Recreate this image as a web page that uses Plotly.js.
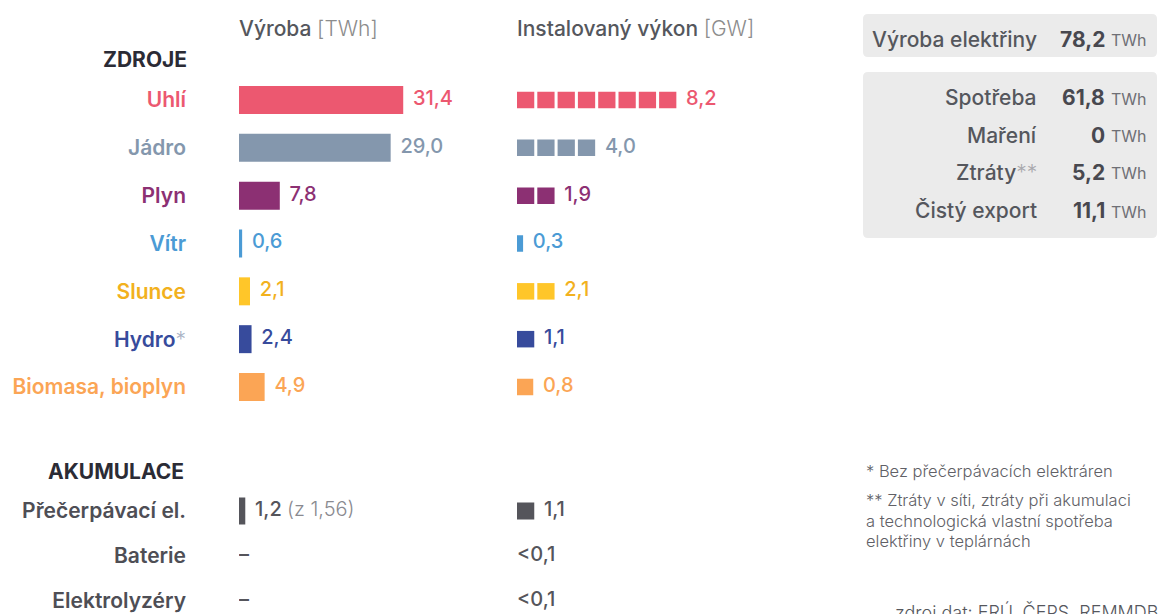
<!DOCTYPE html>
<html><head><meta charset="utf-8">
<script src="https://cdn.plot.ly/plotly-3.0.1.min.js"></script>
<style>html,body{margin:0;padding:0;background:#fff;} #chart{width:1171px;height:614px;}</style>
</head><body><div id="chart"></div>
<script>
// ---------- data ----------
const sourceNames = ['Uhlí', 'Jádro', 'Plyn', 'Vítr', 'Slunce', 'Hydro', 'Biomasa, bioplyn'];
const sourceMarks = ['', '', '', '', '', '*', ''];
const sourceProduction = [31.4, 29.0, 7.8, 0.6, 2.1, 2.4, 4.9];      // TWh
const sourceCapacity = [8.2, 4.0, 1.9, 0.3, 2.1, 1.1, 0.8];          // GW

const storageNames = ['Přečerpávací el.', 'Baterie', 'Elektrolyzéry'];
const storageProduction = [1.2, null, null];     // TWh
const storageInput = [1.56, null, null];         // TWh consumed
const storageCapacity = [1.1, null, null];       // GW
const storageCapacityText = ['', '<0,1', '<0,1'];

const totalLabel = 'Výroba elektřiny';
const totalValue = 78.2;
const balanceLabels = ['Spotřeba', 'Maření', 'Ztráty', 'Čistý export'];
const balanceMarks = ['', '', '**', ''];
const balanceValues = [61.8, 0, 5.2, 11.1];

const footnotes = [
  '* Bez přečerpávacích elektráren',
  '** Ztráty v síti, ztráty při akumulaci',
  'a technologická vlastní spotřeba',
  'elektřiny v teplárnách'
];
const sourceNote = 'zdroj dat: ERÚ, ČEPS, REMMDB';

// ---------- styles ----------
const barColors = ['#EC5870', '#8497AD', '#8C3073', '#4B9BD5', '#FFC629', '#374B9C', '#FBA555'];
const textColors = ['#EC5870', '#8497AD', '#8C3073', '#4B9BD5', '#F2B11E', '#374B9C', '#FBA555'];
const storageColor = '#55555B';
const FONT = 'Inter, "Noto Sans", sans-serif';
const LBL = 21, VAL = 20;
const W = 1171, H = 614;
const px = x => x / W;
const py = y => 1 - y / H;
const fmt1 = v => v.toFixed(1).replace('.', ',');
const fmtRaw = v => String(v).replace('.', ',');
const fmtBal = v => v === 0 ? '0' : fmt1(v);

// capacity squares: each 1 GW one square (rounded), values below 1 GW as a partial bar
const SQ = 0.85;
function squares(values, names, colors) {
  const ys = [], xs = [], bases = [], cols = [], labelX = [];
  values.forEach((v, i) => {
    if (v === null) { labelX.push(null); return; }
    if (v >= 1) {
      const n = Math.round(v);
      for (let k = 0; k < n; k++) { ys.push(names[i]); xs.push(SQ); bases.push(k); cols.push(colors[i]); }
      labelX.push(n - 1 + SQ);
    } else {
      ys.push(names[i]); xs.push(v); bases.push(0); cols.push(colors[i]);
      labelX.push(v);
    }
  });
  return {ys, xs, bases, cols, labelX};
}
const srcSq = squares(sourceCapacity, sourceNames, barColors);
const stoSq = squares(storageCapacity, storageNames, storageNames.map(() => storageColor));

const traces = [];
// production bars
traces.push({type: 'bar', orientation: 'h', x: sourceProduction, y: sourceNames,
  marker: {color: barColors, line: {width: 0}}, width: 0.585, xaxis: 'x', yaxis: 'y', hoverinfo: 'skip'});
traces.push({type: 'scatter', mode: 'markers+text', x: sourceProduction, y: sourceNames,
  marker: {size: 14, color: 'rgba(0,0,0,0)'}, text: sourceProduction.map(fmt1), textposition: 'middle right',
  textfont: {family: FONT, size: VAL, color: textColors, weight: 500}, xaxis: 'x', yaxis: 'y', hoverinfo: 'skip'});
// capacity squares
traces.push({type: 'bar', orientation: 'h', x: srcSq.xs, y: srcSq.ys, base: srcSq.bases,
  marker: {color: srcSq.cols, line: {width: 0}}, width: 0.345, xaxis: 'x2', yaxis: 'y', hoverinfo: 'skip'});
traces.push({type: 'scatter', mode: 'markers+text', x: srcSq.labelX, y: sourceNames,
  marker: {size: 14, color: 'rgba(0,0,0,0)'}, text: sourceCapacity.map(fmt1), textposition: 'middle right',
  textfont: {family: FONT, size: VAL, color: textColors, weight: 500}, xaxis: 'x2', yaxis: 'y', hoverinfo: 'skip'});

// storage production
traces.push({type: 'bar', orientation: 'h', x: storageProduction, y: storageNames,
  marker: {color: storageColor, line: {width: 0}}, width: 0.6, xaxis: 'x', yaxis: 'y3', hoverinfo: 'skip'});
traces.push({type: 'scatter', mode: 'markers+text',
  x: storageProduction.map(v => v === null ? null : v), y: storageNames,
  marker: {size: 14, color: 'rgba(0,0,0,0)'},
  text: storageProduction.map((v, i) => v === null ? '' :
    fmt1(v) + ' <span style="color:#8a8a90;font-weight:300">(z ' + fmtRaw(storageInput[i]) + ')</span>'),
  textposition: 'middle right', textfont: {family: FONT, size: VAL, color: storageColor, weight: 500},
  xaxis: 'x', yaxis: 'y3', hoverinfo: 'skip'});
traces.push({type: 'scatter', mode: 'text',
  x: storageProduction.map(v => v === null ? 0 : null), y: storageNames,
  text: storageProduction.map(v => v === null ? '–' : ''), textposition: 'middle right',
  textfont: {family: FONT, size: VAL, color: storageColor, weight: 500}, xaxis: 'x', yaxis: 'y3', hoverinfo: 'skip'});
// storage capacity
traces.push({type: 'bar', orientation: 'h', x: stoSq.xs, y: stoSq.ys, base: stoSq.bases,
  marker: {color: stoSq.cols, line: {width: 0}}, width: 0.378, xaxis: 'x2', yaxis: 'y3', hoverinfo: 'skip'});
traces.push({type: 'scatter', mode: 'markers+text', x: stoSq.labelX, y: storageNames,
  marker: {size: 14, color: 'rgba(0,0,0,0)'},
  text: storageCapacity.map(v => v === null ? '' : fmt1(v)), textposition: 'middle right',
  textfont: {family: FONT, size: VAL, color: storageColor, weight: 500}, xaxis: 'x2', yaxis: 'y3', hoverinfo: 'skip'});
traces.push({type: 'scatter', mode: 'text',
  x: storageCapacity.map(v => v === null ? 0 : null), y: storageNames,
  text: storageCapacityText, textposition: 'middle right',
  textfont: {family: FONT, size: VAL, color: storageColor, weight: 500}, xaxis: 'x2', yaxis: 'y3', hoverinfo: 'skip'});

// ---------- layout ----------
const rowH1 = 47.83, rowH2 = 45;
const y1Top = 100 - rowH1 / 2, y1Bot = 387 + rowH1 / 2;
const y3Top = 511 - rowH2 / 2;
const y3Span = (H - y3Top) / rowH2;

const tickFont = {family: FONT, size: LBL, weight: 600};
const layout = {
  width: W, height: H, margin: {l: 0, r: 0, t: 0, b: 0},
  paper_bgcolor: '#fff', plot_bgcolor: 'rgba(0,0,0,0)',
  showlegend: false, barmode: 'overlay', separators: ', ',
  font: {family: FONT},
  xaxis: {domain: [px(239), px(239 + 5.23 * 50)], range: [0, 50], visible: false, anchor: 'y', fixedrange: true},
  xaxis2: {domain: [px(517), px(517 + 20.3 * 15)], range: [0, 15], visible: false, anchor: 'y', fixedrange: true},
  yaxis: {domain: [py(y1Bot), py(y1Top)], range: [sourceNames.length - 0.5, -0.5], anchor: 'x',
    showgrid: false, zeroline: false, showline: false, ticks: '', ticklabelstandoff: 52,
    tickvals: sourceNames,
    ticktext: sourceNames.map((n, i) => '<span style="color:' + textColors[i] + '">' + n + '</span>' +
      (sourceMarks[i] ? '<span style="color:#aab3c5;font-weight:300">' + sourceMarks[i] + '</span>' : '')),
    tickfont: tickFont, fixedrange: true},
  yaxis3: {domain: [0, py(y3Top)], range: [-0.5 + y3Span, -0.5], anchor: 'x',
    showgrid: false, zeroline: false, showline: false, ticks: '', ticklabelstandoff: 52,
    tickvals: storageNames, ticktext: storageNames, tickfont: Object.assign({color: '#4E4E55'}, tickFont), fixedrange: true},
  shapes: [], annotations: []
};

function roundRect(x0, y0, x1, y1, r) {
  const rx = r / W, ry = r / H;
  const X0 = px(x0), X1 = px(x1), Y0 = py(y0), Y1 = py(y1);
  return `M${X0 + rx},${Y0} L${X1 - rx},${Y0} Q${X1},${Y0} ${X1},${Y0 - ry} L${X1},${Y1 + ry} Q${X1},${Y1} ${X1 - rx},${Y1} L${X0 + rx},${Y1} Q${X0},${Y1} ${X0},${Y1 + ry} L${X0},${Y0 - ry} Q${X0},${Y0} ${X0 + rx},${Y0} Z`;
}
layout.shapes.push({type: 'path', xref: 'paper', yref: 'paper', path: roundRect(863, 14, 1157, 57, 5),
  fillcolor: '#EBEBEB', line: {width: 0}, layer: 'below'});
layout.shapes.push({type: 'path', xref: 'paper', yref: 'paper', path: roundRect(863, 72, 1157, 238, 5),
  fillcolor: '#EBEBEB', line: {width: 0}, layer: 'below'});

function ann(text, x, y, xanchor, font, extra) {
  layout.annotations.push(Object.assign({text, x: px(x), y: py(y), xref: 'paper', yref: 'paper',
    xanchor, yanchor: 'middle', showarrow: false, font: Object.assign({family: FONT}, font)}, extra || {}));
}
// column headers
ann('Výroba <span style="color:#8c8c8c;font-weight:300">[TWh]</span>', 237, 28, 'left', {size: LBL, color: '#55575D', weight: 500});
ann('Instalovaný výkon <span style="color:#8c8c8c;font-weight:300">[GW]</span>', 515, 28, 'left', {size: LBL, color: '#55575D', weight: 500});
// section headers
ann('ZDROJE', 189, 59, 'right', {size: LBL, color: '#2B2B35', weight: 700});
ann('AKUMULACE', 186, 471, 'right', {size: LBL, color: '#2B2B35', weight: 700});

// summary panel
ann(totalLabel, 1039, 39, 'right', {size: LBL, color: '#55575D', weight: 500});
ann(fmt1(totalValue), 1107, 39, 'right', {size: LBL, color: '#48484F', weight: 700});
ann('TWh', 1109, 40, 'left', {size: 16, color: '#6f6f75', weight: 400});
const balY = [98, 135, 172, 211];
balanceLabels.forEach((l, i) => {
  const t = l + (balanceMarks[i] ? '<span style="color:#a8a8ad;font-weight:300">' + balanceMarks[i] + '</span>' : '');
  ann(t, 1039, balY[i], 'right', {size: LBL, color: '#55575D', weight: 500});
  ann(fmtBal(balanceValues[i]), 1107, balY[i], 'right', {size: LBL, color: '#48484F', weight: 700});
  ann('TWh', 1109, balY[i] + 1, 'left', {size: 16, color: '#6f6f75', weight: 400});
});
// footnotes
const fnY = [471, 500, 521, 541];
footnotes.forEach((t, i) => ann(t, 864, fnY[i], 'left', {size: 16.5, color: '#606066', weight: 300}));
ann(sourceNote, 893, 612, 'left', {size: 18, color: '#55575D', weight: 300});

Plotly.newPlot('chart', traces, layout, {displayModeBar: false, staticPlot: true});
</script>
</body></html>
